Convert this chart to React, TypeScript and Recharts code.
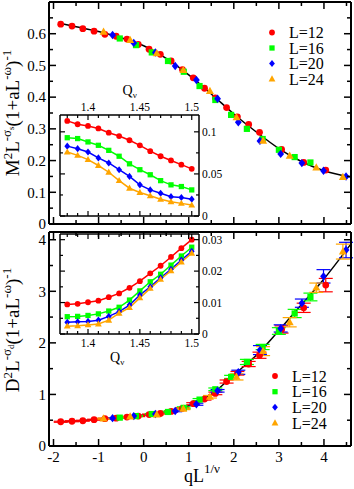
import React from "react";
import { ComposedChart, Line, Scatter, XAxis, YAxis, ErrorBar } from "recharts";

const FONT = "'Liberation Serif', 'Times New Roman', serif";
const RED = "#ff0000";
const GREEN = "#00ff00";
const BLUE = "#0000ff";
const ORANGE = "#ffa500";

// main panels, x = qL^{1/nu}
const xL12 = [-1.84, -1.59, -1.35, -1.1, -0.86, -0.61, -0.37, -0.12, 0.12, 0.37, 0.61, 0.86, 1.1, 1.35, 1.59, 1.84, 2.08, 2.33, 2.57, 3.06, 3.55, 4.04];
const mL12 = [0.63, 0.624, 0.616, 0.608, 0.598, 0.592, 0.583, 0.566, 0.551, 0.535, 0.514, 0.487, 0.461, 0.428, 0.398, 0.367, 0.338, 0.314, 0.289, 0.235, 0.194, 0.17];
const dL12 = [0.47, 0.48, 0.49, 0.51, 0.53, 0.54, 0.56, 0.58, 0.61, 0.63, 0.67, 0.73, 0.82, 0.91, 1.02, 1.25, 1.41, 1.59, 1.76, 2.26, 2.68, 3.12];
const eL12 = [0.01, 0.01, 0.01, 0.01, 0.01, 0.01, 0.01, 0.01, 0.01, 0.01, 0.015, 0.015, 0.02, 0.02, 0.025, 0.03, 0.035, 0.05, 0.06, 0.07, 0.09, 0.13];

const xL16 = [-0.53, -0.17, 0.18, 0.54, 0.89, 1.24, 1.59, 1.94, 2.29, 2.64, 3.0, 3.35, 3.7];
const mL16 = [0.585, 0.564, 0.541, 0.514, 0.48, 0.435, 0.391, 0.344, 0.3, 0.268, 0.234, 0.211, 0.194];
const dL16 = [0.55, 0.58, 0.62, 0.66, 0.74, 0.9, 1.1, 1.34, 1.63, 1.92, 2.23, 2.57, 2.89];
const eL16 = [0.01, 0.01, 0.01, 0.015, 0.02, 0.02, 0.025, 0.03, 0.05, 0.05, 0.065, 0.08, 0.075];

const xL20 = [-0.69, -0.22, 0.26, 0.7, 1.17, 1.64, 2.1, 2.58, 3.04, 3.51, 3.99, 4.49];
const mL20 = [0.596, 0.571, 0.541, 0.498, 0.454, 0.395, 0.321, 0.262, 0.221, 0.192, 0.168, 0.15];
const dL20 = [0.54, 0.58, 0.62, 0.68, 0.81, 1.07, 1.43, 1.86, 2.28, 2.77, 3.29, 3.8];
const eL20 = [0.01, 0.01, 0.01, 0.015, 0.02, 0.025, 0.04, 0.087, 0.07, 0.08, 0.13, 0.15];

const xL24 = [-0.89, -0.3, 0.29, 0.88, 1.47, 2.06, 2.65, 3.24, 3.83, 4.42];
const mL24 = [0.606, 0.58, 0.538, 0.485, 0.419, 0.336, 0.262, 0.215, 0.178, 0.148];
const dL24 = [0.53, 0.57, 0.61, 0.72, 0.955, 1.34, 1.84, 2.4, 3.07, 3.77];
const eL24 = [0.01, 0.01, 0.01, 0.015, 0.025, 0.06, 0.087, 0.09, 0.09, 0.145];

// scaling curves
const fitX = [-1.84, -1.5, -1, -0.5, 0, 0.5, 1, 1.5, 2, 2.5, 3, 3.5, 4, 4.6];
const fitM = [0.632, 0.622, 0.607, 0.587, 0.562, 0.522, 0.47, 0.41, 0.347, 0.29, 0.238, 0.197, 0.168, 0.148];
const fitD = [0.47, 0.485, 0.52, 0.555, 0.6, 0.66, 0.78, 1.0, 1.38, 1.76, 2.24, 2.74, 3.24, 3.92];

// insets, x = Q_nu
const qNu = [1.38, 1.39, 1.4, 1.41, 1.42, 1.43, 1.44, 1.45, 1.46, 1.47, 1.48, 1.49, 1.5];
const insM12 = [0.113, 0.109, 0.107, 0.104, 0.099, 0.095, 0.09, 0.084, 0.077, 0.071, 0.066, 0.061, 0.056];
const insM16 = [0.093, 0.092, 0.088, 0.084, 0.078, 0.071, 0.062, 0.055, 0.049, 0.042, 0.037, 0.035, 0.031];
const insM20 = [0.083, 0.08, 0.076, 0.069, 0.063, 0.055, 0.047, 0.037, 0.031, 0.027, 0.023, 0.022, 0.02];
const insM24 = [0.076, 0.072, 0.067, 0.06, 0.052, 0.042, 0.033, 0.028, 0.024, 0.02, 0.017, 0.015, 0.013];
const insD12 = [0.0094, 0.0096, 0.0101, 0.0106, 0.0117, 0.0129, 0.0147, 0.0168, 0.0193, 0.0217, 0.0245, 0.0273, 0.03];
const insD16 = [0.0055, 0.0056, 0.0059, 0.0064, 0.0073, 0.0085, 0.0108, 0.0137, 0.0166, 0.019, 0.0219, 0.0248, 0.0276];
const insD20 = [0.0037, 0.0039, 0.004, 0.0044, 0.0056, 0.0071, 0.0092, 0.0124, 0.015, 0.0179, 0.0206, 0.0235, 0.0263];
const insD24 = [0.0025, 0.0026, 0.0029, 0.0032, 0.0044, 0.0066, 0.0084, 0.0115, 0.0145, 0.0174, 0.0201, 0.0229, 0.0257];

// ticks
const mainXTicks = [-2, -1.5, -1, -0.5, 0, 0.5, 1, 1.5, 2, 2.5, 3, 3.5, 4, 4.5];
const mainXMajor = [-2, -1, 0, 1, 2, 3, 4];
const topYTicks = [0, 0.05, 0.1, 0.15, 0.2, 0.25, 0.3, 0.35, 0.4, 0.45, 0.5, 0.55, 0.6, 0.65];
const topYMajor = [0, 0.1, 0.2, 0.3, 0.4, 0.5, 0.6];
const botYTicks = [0, 0.5, 1, 1.5, 2, 2.5, 3, 3.5, 4];
const botYMajor = [0, 1, 2, 3, 4];
const insXTicks = [1.38, 1.39, 1.4, 1.41, 1.42, 1.43, 1.44, 1.45, 1.46, 1.47, 1.48, 1.49, 1.5];
const insXMajor = [1.4, 1.45, 1.5];
const insMTicks = [0, 0.025, 0.05, 0.075, 0.1];
const insMMajor = [0, 0.05, 0.1];
const insDTicks = [0, 0.005, 0.01, 0.015, 0.02, 0.025, 0.03];
const insDMajor = [0, 0.01, 0.02, 0.03];

const legendNames = ["L=12", "L=16", "L=20", "L=24"];

const pts = (xs: number[], ys: number[], es?: number[]) =>
  xs.map((x, i) => ({ x, y: ys[i], e: es ? es[i] : 0 }));

type Kind = "circle" | "square" | "diamond" | "triangle";
const kinds: Kind[] = ["circle", "square", "diamond", "triangle"];
const colors = [RED, GREEN, BLUE, ORANGE];

function Marker({ kind, cx, cy, color, s = 1 }: { kind: Kind; cx: number; cy: number; color: string; s?: number }) {
  if (cx == null || cy == null) return null;
  if (kind === "circle") return <circle cx={cx} cy={cy} r={3.4 * s} fill={color} />;
  if (kind === "square") return <rect x={cx - 3.1 * s} y={cy - 3.1 * s} width={6.2 * s} height={6.2 * s} fill={color} />;
  if (kind === "diamond")
    return <polygon points={`${cx},${cy - 4.2 * s} ${cx + 3.4 * s},${cy} ${cx},${cy + 4.2 * s} ${cx - 3.4 * s},${cy}`} fill={color} />;
  return <polygon points={`${cx},${cy - 4.3 * s} ${cx + 4 * s},${cy + 2.9 * s} ${cx - 4 * s},${cy + 2.9 * s}`} fill={color} />;
}

type Side = "bottom" | "left";
type TickOpt = { label: boolean; fs: number; major: number; minor: number; gap: number; sw: number; span: number; far?: boolean };

// bottom/left axes draw their own inward ticks plus the mirrored ones on the opposite edge (span px away).
// far=true puts the label beyond the opposite edge (top or right) instead.
const makeTick = (side: Side, majors: number[], o: TickOpt) => (props: any) => {
  const { x, y, payload } = props;
  const v = payload.value;
  const isMajor = majors.some((m) => Math.abs(m - v) < 1e-9);
  const len = isMajor ? o.major : o.minor;
  const label = o.label && isMajor ? String(v) : null;
  if (side === "bottom") {
    const yt = y - o.span;
    return (
      <g>
        <line x1={x} y1={y} x2={x} y2={y - len} stroke="#000" strokeWidth={o.sw} />
        <line x1={x} y1={yt} x2={x} y2={yt + len} stroke="#000" strokeWidth={o.sw} />
        {label && (
          <text x={x} y={o.far ? yt - o.gap : y + o.gap} textAnchor="middle" fontSize={o.fs} fontFamily={FONT} fill="#000">
            {label}
          </text>
        )}
      </g>
    );
  }
  const xr = x + o.span;
  return (
    <g>
      <line x1={x} y1={y} x2={x + len} y2={y} stroke="#000" strokeWidth={o.sw} />
      <line x1={xr} y1={y} x2={xr - len} y2={y} stroke="#000" strokeWidth={o.sw} />
      {label && (
        <text x={o.far ? xr + o.gap : x - o.gap} y={y} dy="0.35em" textAnchor={o.far ? "start" : "end"}
          fontSize={o.fs} fontFamily={FONT} fill="#000">
          {label}
        </text>
      )}
    </g>
  );
};

const noTick = () => <g />;
const frameMain = { stroke: "#000", strokeWidth: 2 };
const frameInset = { stroke: "#000", strokeWidth: 1.5 };

const X_DOMAIN: [number, number] = [-2.1, 4.6];
const Q_DOMAIN: [number, number] = [1.373, 1.507];

function MainPanel({ top, height, margin, yDomain, yTicks, yMajor, showX, series, fit }: any) {
  const xH = showX ? 40 : 1;
  const plotW = 354 - margin.left - margin.right - 49 - 1;
  const plotH = height - margin.top - margin.bottom - 1 - xH;
  const tk = { fs: 15, major: 7, minor: 4, sw: 1.5 };
  return (
    <div style={{ position: "absolute", left: 0, top }}>
      <ComposedChart width={354} height={height} margin={margin}>
        <XAxis xAxisId="t" orientation="top" type="number" domain={X_DOMAIN} allowDataOverflow ticks={mainXTicks}
          tickLine={false} axisLine={frameMain} height={1} tick={noTick} />
        <XAxis type="number" dataKey="x" domain={X_DOMAIN} allowDataOverflow ticks={mainXTicks} interval={0}
          tickSize={0} tickMargin={0} tickLine={false} axisLine={frameMain} height={xH}
          tick={makeTick("bottom", mainXMajor, { ...tk, label: showX, gap: 16, span: plotH })} />
        <YAxis type="number" dataKey="y" domain={yDomain} allowDataOverflow ticks={yTicks} interval={0}
          tickSize={0} tickMargin={0} tickLine={false} axisLine={frameMain} width={49}
          tick={makeTick("left", yMajor, { ...tk, label: true, gap: 3, span: plotW })} />
        <YAxis yAxisId="r" orientation="right" type="number" domain={yDomain} allowDataOverflow ticks={yTicks}
          tickLine={false} axisLine={frameMain} width={1} tick={noTick} />
        <Line data={fit} dataKey="y" type="monotone" stroke="#000" strokeWidth={1.5} dot={false} activeDot={false}
          legendType="none" isAnimationActive={false} />
        {series.map((s: any, i: number) => (
          <Scatter key={i} name={legendNames[i]} data={s} fill={colors[i]} isAnimationActive={false}
            shape={(p: any) => <Marker kind={kinds[i]} cx={p.cx} cy={p.cy} color={colors[i]} />}>
            {showX && <ErrorBar dataKey="e" direction="y" width={7} stroke={colors[i]} strokeWidth={1.2} />}
          </Scatter>
        ))}
      </ComposedChart>
    </div>
  );
}

function InsetPanel({ left, top, height, margin, yDomain, yTicks, yMajor, xLabelSide, series }: any) {
  const labelTop = xLabelSide === "top";
  const plotW = 200 - margin.left - margin.right - 2;
  const plotH = height - margin.top - margin.bottom - 2;
  const tk = { fs: 11.5, major: 5, minor: 3, sw: 1.2, label: true };
  return (
    <div style={{ position: "absolute", left, top }}>
      <ComposedChart width={200} height={height} margin={margin}>
        <XAxis xAxisId="t" orientation="top" type="number" domain={Q_DOMAIN} allowDataOverflow ticks={insXTicks}
          tickLine={false} axisLine={frameInset} height={1} tick={noTick} />
        <XAxis type="number" dataKey="x" domain={Q_DOMAIN} allowDataOverflow ticks={insXTicks} interval={0}
          tickSize={0} tickMargin={0} tickLine={false} axisLine={frameInset} height={1}
          tick={makeTick("bottom", insXMajor, { ...tk, gap: labelTop ? 4 : 12.5, span: plotH, far: labelTop })} />
        <YAxis type="number" dataKey="y" domain={yDomain} allowDataOverflow ticks={yTicks} interval={0}
          tickSize={0} tickMargin={0} tickLine={false} axisLine={frameInset} width={1}
          tick={makeTick("left", yMajor, { ...tk, gap: 3, span: plotW, far: true })} />
        <YAxis yAxisId="r" orientation="right" type="number" domain={yDomain} allowDataOverflow ticks={yTicks}
          tickLine={false} axisLine={frameInset} width={1} tick={noTick} />
        {series.map((s: any, i: number) => (
          <Line key={i} data={s} dataKey="y" type="linear" stroke={colors[i]} strokeWidth={1.5} isAnimationActive={false}
            activeDot={false}
            dot={(p: any) => <Marker key={`d${i}-${p.index}`} kind={kinds[i]} cx={p.cx} cy={p.cy} color={colors[i]} s={0.85} />} />
        ))}
      </ComposedChart>
    </div>
  );
}

function Legend({ x, ys }: { x: number; ys: number[] }) {
  return (
    <g>
      {legendNames.map((n, i) => (
        <g key={n}>
          <Marker kind={kinds[i]} cx={x} cy={ys[i]} color={colors[i]} s={0.85} />
          <text x={x + 17} y={ys[i]} dy="0.35em" fontSize={16} fontFamily={FONT}>{n}</text>
        </g>
      ))}
    </g>
  );
}

export default function App() {
  const topSeries = [pts(xL12, mL12), pts(xL16, mL16), pts(xL20, mL20), pts(xL24, mL24)];
  const botSeries = [pts(xL12, dL12, eL12), pts(xL16, dL16, eL16), pts(xL20, dL20, eL20), pts(xL24, dL24, eL24)];
  const insTop = [pts(qNu, insM12), pts(qNu, insM16), pts(qNu, insM20), pts(qNu, insM24)];
  const insBot = [pts(qNu, insD12), pts(qNu, insD16), pts(qNu, insD20), pts(qNu, insD24)];

  return (
    <div style={{ position: "absolute", left: 0, top: 0, width: 354, height: 489, background: "#fff", overflow: "hidden" }}>
      <MainPanel top={0} height={232} margin={{ top: 1, right: 2, bottom: 7, left: 0 }}
        yDomain={[0, 0.7]} yTicks={topYTicks} yMajor={topYMajor} showX={false} series={topSeries} fit={pts(fitX, fitM)} />
      <MainPanel top={226} height={263} margin={{ top: 5, right: 2, bottom: 3, left: 0 }}
        yDomain={[0, 4.15]} yTicks={botYTicks} yMajor={botYMajor} showX={true} series={botSeries} fit={pts(fitX, fitD)} />
      <InsetPanel left={40} top={95} height={130} margin={{ top: 19, right: 40, bottom: 8, left: 19 }}
        yDomain={[0, 0.12]} yTicks={insMTicks} yMajor={insMMajor} xLabelSide="top" series={insTop} />
      <InsetPanel left={40} top={214} height={140} margin={{ top: 19, right: 40, bottom: 19, left: 19 }}
        yDomain={[0, 0.0318]} yTicks={insDTicks} yMajor={insDMajor} xLabelSide="bottom" series={insBot} />
      <svg width={354} height={489} style={{ position: "absolute", left: 0, top: 0, pointerEvents: "none" }}>
        <Legend x={272} ys={[32.5, 48, 63.5, 79]} />
        <Legend x={275} ys={[376, 391.7, 407.3, 423]} />
        <text transform="translate(18.5,113) rotate(-90)" textAnchor="middle" fontSize={19} fontFamily={FONT}>
          M<tspan dy={-7} fontSize={13}>2</tspan><tspan dy={7}>L</tspan><tspan dy={-8} fontSize={13}>-σ</tspan>
          <tspan dy={3} fontSize={9}>s</tspan><tspan dy={5}>(1+aL</tspan><tspan dy={-8} fontSize={13}>-ω</tspan>
          <tspan dy={8}>)</tspan><tspan dy={-8} fontSize={13}>-1</tspan>
        </text>
        <text transform="translate(18.5,330) rotate(-90)" textAnchor="middle" fontSize={19} fontFamily={FONT}>
          D<tspan dy={-7} fontSize={13}>2</tspan><tspan dy={7}>L</tspan><tspan dy={-8} fontSize={13}>-σ</tspan>
          <tspan dy={3} fontSize={9}>d</tspan><tspan dy={5}>(1+aL</tspan><tspan dy={-8} fontSize={13}>-ω</tspan>
          <tspan dy={8}>)</tspan><tspan dy={-8} fontSize={13}>-1</tspan>
        </text>
        <text x={184} y={482} fontSize={18} fontFamily={FONT}>
          qL<tspan dy={-9} fontSize={13}>1/ν</tspan>
        </text>
        <text x={122.5} y={95} fontSize={14} fontFamily={FONT}>
          Q<tspan dy={3} fontSize={9}>ν</tspan>
        </text>
        <text x={110} y={361.5} fontSize={14} fontFamily={FONT}>
          Q<tspan dy={3} fontSize={9}>ν</tspan>
        </text>
      </svg>
    </div>
  );
}
